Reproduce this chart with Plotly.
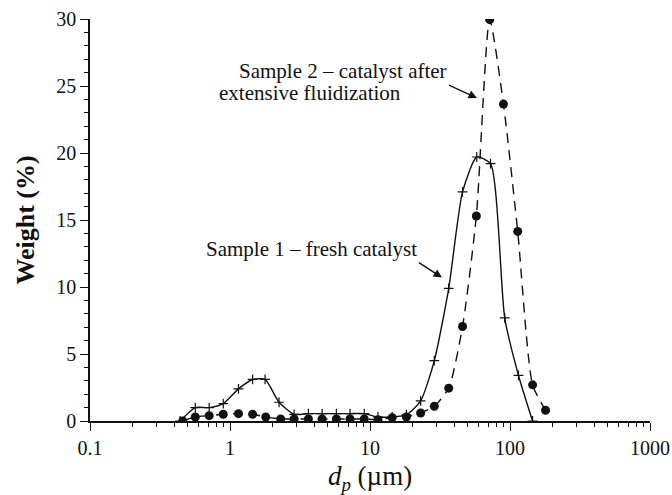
import plotly.graph_objects as go

# Sample 1 - fresh catalyst
s1_dp = [0.44, 0.565, 0.71, 0.895, 1.15, 1.45, 1.78, 2.24, 2.87, 3.63, 4.55, 5.75, 7.2, 9.1,
         11.4, 14.4, 18.2, 23.0, 28.8, 36.5, 45.8, 57.9, 72.6, 91.7, 115.0, 145.0]
s1_w = [0.0, 1.0, 1.0, 1.3, 2.4, 3.1, 3.1, 1.4, 0.5, 0.55, 0.55, 0.55, 0.55, 0.55,
        0.3, 0.3, 0.45, 1.5, 4.5, 9.9, 17.1, 19.7, 19.2, 7.7, 3.4, 0.0]

# Sample 2 - catalyst after extensive fluidization
s2_dp = [0.46, 0.565, 0.71, 0.895, 1.15, 1.45, 1.8, 2.3, 2.87, 3.63, 4.55, 5.75, 7.2, 9.1,
         11.4, 14.4, 18.2, 23.0, 28.8, 36.5, 45.8, 57.5, 71.6, 89.8, 113.5, 145.0, 179.5]
s2_w = [0.0, 0.3, 0.4, 0.5, 0.55, 0.5, 0.3, 0.15, 0.15, 0.15, 0.15, 0.15, 0.15, 0.15,
        0.1, 0.25, 0.3, 0.6, 1.1, 2.45, 7.05, 15.3, 29.95, 23.65, 14.15, 2.7, 0.8]

x_ticks = [0.1, 1, 10, 100, 1000]
x_ticklabels = ["0.1", "1", "10", "100", "1000"]
y_ticks = [0, 5, 10, 15, 20, 25, 30]

INK = "#111111"
FONT = "Liberation Serif"

fig = go.Figure()
fig.add_trace(go.Scatter(
    x=s1_dp, y=s1_w, mode="lines+markers", name="Sample 1",
    line=dict(color=INK, width=1.4, shape="spline", smoothing=0.6),
    marker=dict(symbol="cross-thin-open", size=7, line=dict(color=INK, width=1.2)),
))
fig.add_trace(go.Scatter(
    x=s2_dp, y=s2_w, mode="lines+markers", name="Sample 2",
    line=dict(color=INK, width=1.4, dash="10px,7px", shape="spline", smoothing=0.6),
    marker=dict(symbol="circle", size=9, color=INK),
))

fig.update_layout(
    width=672, height=495,
    margin=dict(l=90, r=22, t=19, b=74),
    paper_bgcolor="white", plot_bgcolor="white",
    showlegend=False,
    font=dict(family=FONT, color=INK, size=20),
    xaxis=dict(
        type="log", range=[-1, 3], automargin=False,
        tickvals=x_ticks, ticktext=x_ticklabels,
        ticks="outside", ticklen=8, tickwidth=1.3, tickcolor=INK,
        minor=dict(ticks="outside", ticklen=4, tickwidth=1, tickcolor=INK, dtick="D1"),
        showline=True, linecolor=INK, linewidth=1.5,
        showgrid=False, zeroline=False,
        tickfont=dict(size=20),
        title=dict(text="<i>d</i><sub><i>p</i></sub> (µm)", font=dict(size=27), standoff=13),
    ),
    yaxis=dict(
        range=[0, 30], automargin=False,
        tickvals=y_ticks,
        ticks="outside", ticklen=8, tickwidth=1.3, tickcolor=INK,
        minor=dict(ticks="outside", ticklen=4, tickwidth=1, tickcolor=INK, dtick=1),
        showline=True, linecolor=INK, linewidth=1.5,
        showgrid=False, zeroline=False,
        tickfont=dict(size=20),
        title=dict(text="<b>Weight (%)</b>", font=dict(size=26), standoff=14),
    ),
)

# Label 1 with its arrow (text box anchored at arrow tail)
fig.add_annotation(x=1.514, y=10.7, xref="x", yref="y",
                   text="Sample 1 – fresh catalyst",
                   showarrow=True, ax=-23, ay=-15, xanchor="right", yanchor="bottom",
                   arrowhead=2, arrowsize=1.2, arrowwidth=1.4, arrowcolor=INK,
                   font=dict(size=21, family=FONT, color=INK))
# Label 2, first line with its arrow
fig.add_annotation(x=1.764, y=24.1, xref="x", yref="y",
                   text="Sample 2 – catalyst after",
                   showarrow=True, ax=-28, ay=-13, xanchor="right", yanchor="bottom",
                   arrowhead=2, arrowsize=1.2, arrowwidth=1.4, arrowcolor=INK,
                   font=dict(size=21, family=FONT, color=INK))
# Label 2, second line (x given as log10 value on the log axis)
fig.add_annotation(x=-0.093, y=24.46, xref="x", yref="y",
                   text="extensive fluidization", xanchor="left",
                   showarrow=False, font=dict(size=21, family=FONT, color=INK))

fig.write_html("out.html")
